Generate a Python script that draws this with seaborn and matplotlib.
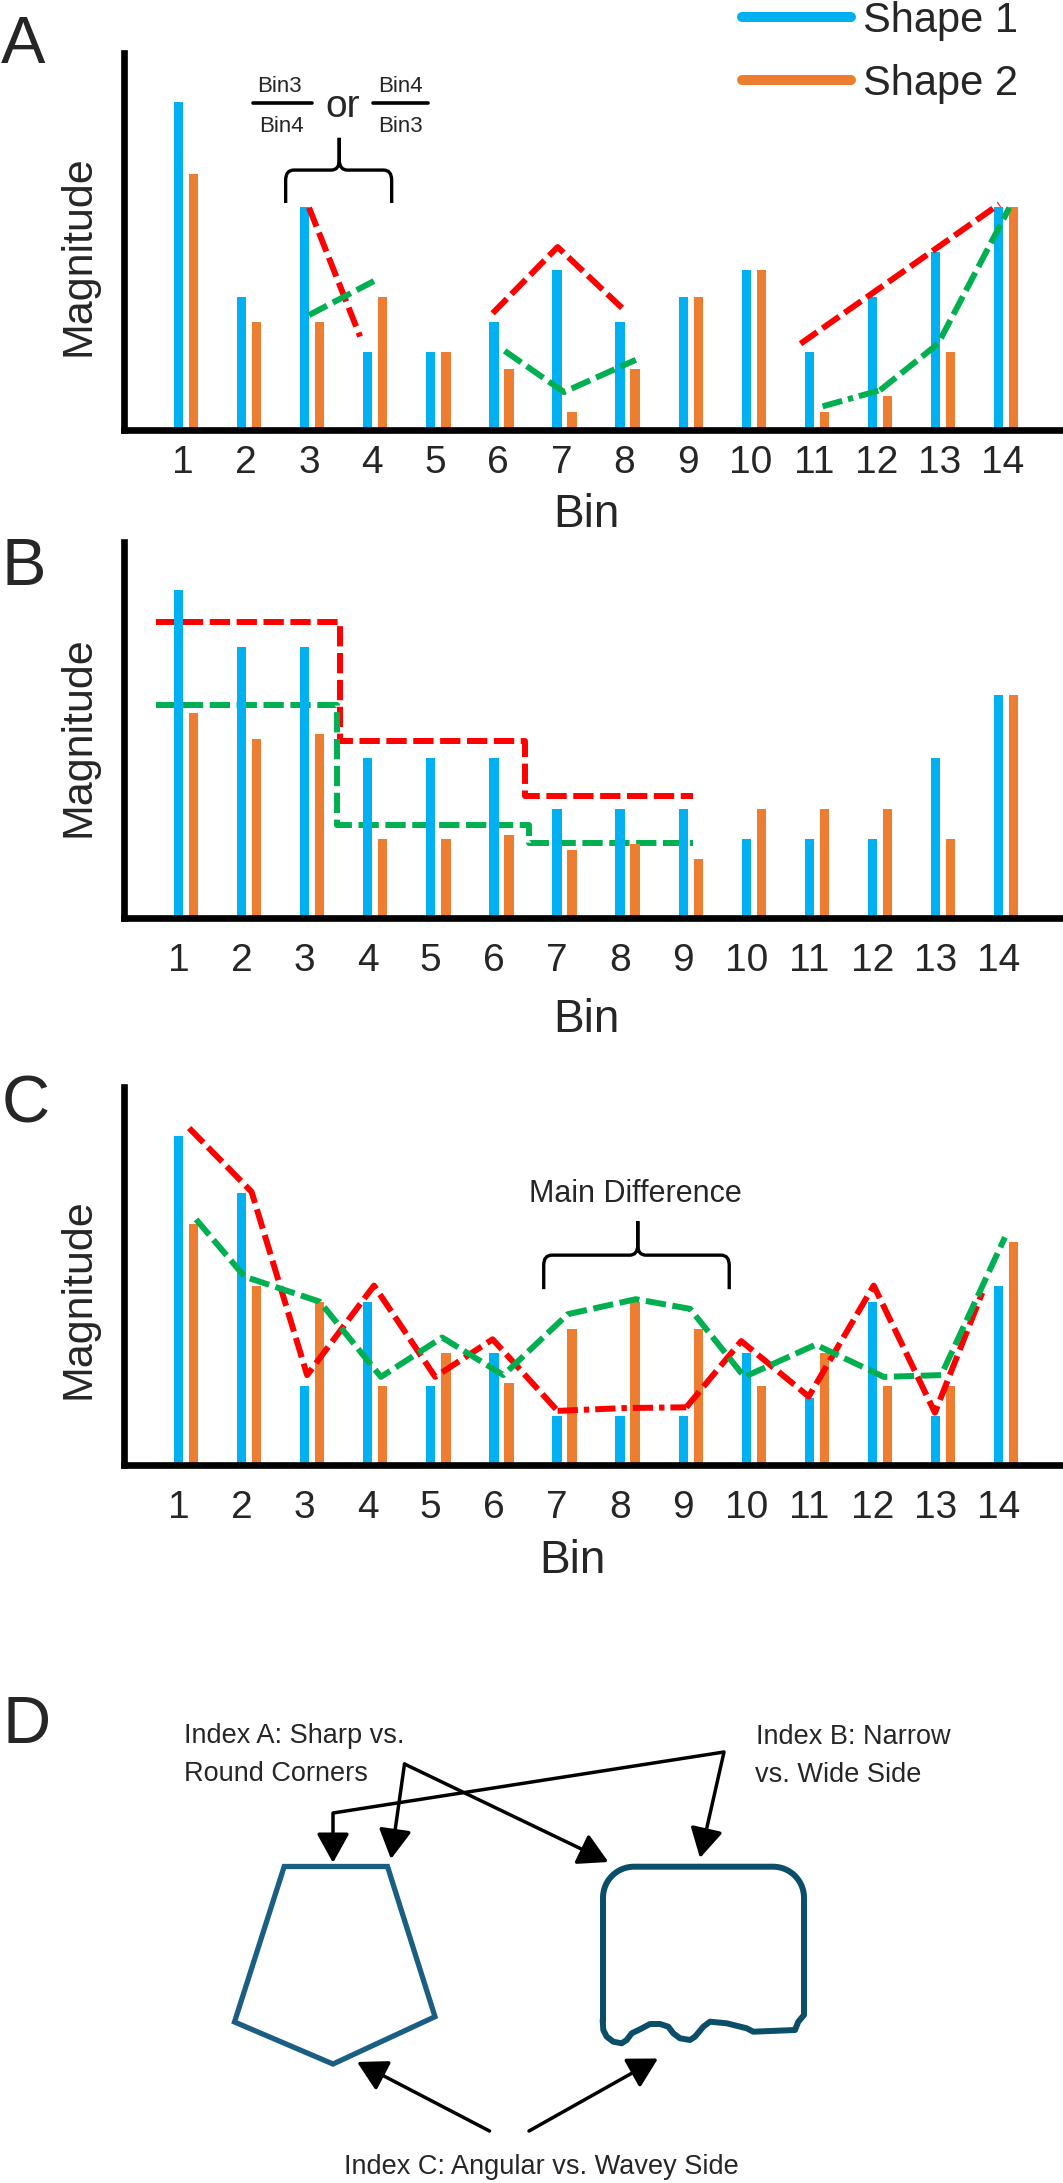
import numpy as np
import pandas as pd
import seaborn as sns
import matplotlib.pyplot as plt
from matplotlib.lines import Line2D
from matplotlib.path import Path
from matplotlib.patches import PathPatch, Polygon, FancyArrowPatch

W, H = 1063, 2183
BLUE = "#00B0F0"
ORANGE = "#ED7D31"
RED = "#FF0000"
GREEN = "#00B050"
DASH = (3.4, 1.1)
DASHDOT = (3.4, 1.0, 0.9, 1.0)

bins = list(range(1, 15))

# bar heights
a_shape1 = [9.16, 3.71, 6.23, 2.19, 2.19, 3.03, 4.46, 3.03, 3.71, 4.46, 2.19, 3.71, 4.96, 6.23]
a_shape2 = [7.16, 3.03, 3.03, 3.71, 2.19, 1.71, 0.51, 1.71, 3.71, 4.46, 0.51, 0.94, 2.19, 6.23]
b_shape1 = [9.16, 7.57, 7.57, 4.48, 4.48, 4.48, 3.05, 3.05, 3.05, 2.22, 2.22, 2.22, 4.48, 6.24]
b_shape2 = [5.73, 4.99, 5.15, 2.22, 2.22, 2.31, 1.89, 2.06, 1.64, 3.05, 3.05, 3.05, 2.22, 6.24]
c_shape1 = [9.19, 7.60, 2.22, 4.57, 2.22, 3.14, 1.37, 1.37, 1.37, 3.14, 1.89, 4.57, 1.37, 5.00]
c_shape2 = [6.75, 5.00, 4.57, 2.22, 3.14, 2.30, 3.82, 4.57, 3.82, 2.22, 3.14, 2.22, 2.22, 6.25]

# panel A: ratio lines
a_red = [([2.95, 3.76], [6.21, 2.61]),
         ([5.86, 6.89, 7.91], [3.26, 5.11, 3.41]),
         ([10.74, 13.89], [2.41, 6.31])]
a_green = [([2.95, 3.98], [3.21, 4.16]),
           ([6.05, 6.99, 8.13], [2.21, 1.06, 1.96]),
           ([11.09, 12.0, 12.92, 14.05], [0.66, 1.11, 2.41, 6.21])]

# panel B: group means as steps
b_red_x = [0.53, 3.44, 3.44, 6.38, 6.38, 9.04]
b_red_y = [8.28, 8.28, 4.94, 4.94, 3.41, 3.41]
b_green_x = [0.53, 3.40, 3.40, 6.43, 6.43, 9.04]
b_green_y = [5.94, 5.94, 2.59, 2.59, 2.09, 2.09]

# panel C: profiles
c_red_x = [1.05, 2.04, 2.92, 3.98, 4.95, 5.86, 6.89, 7.96, 8.93, 9.80, 10.87, 11.90, 12.87, 13.62]
c_red_y = [9.42, 7.64, 2.52, 5.02, 2.47, 3.52, 1.52, 1.60, 1.62, 3.47, 1.92, 5.02, 1.47, 4.82]
c_green_x = [1.16, 1.93, 3.12, 4.09, 5.06, 6.03, 7.05, 8.13, 8.99, 9.85, 10.98, 12.06, 12.97, 13.98]
c_green_y = [6.87, 5.27, 4.57, 2.47, 3.57, 2.52, 4.22, 4.64, 4.37, 2.47, 3.37, 2.47, 2.52, 6.37]

# panel D outlines (pixel coords of the sketch)
pent_x = [284.2, 387.5, 435, 333, 234.5]
pent_y = [1866.5, 1866.5, 2016.7, 2064, 2022]
wave_x = [804, 798.3, 795, 753.3, 746.7, 726.7, 710, 703.3, 695, 690, 680, 673.3, 668.3,
          660, 650, 640, 631.7, 626.7, 621.7, 613.3, 606.7, 603.3, 602.7]
wave_y = [2015, 2021.7, 2030, 2031.7, 2028.3, 2023.3, 2021.7, 2026.7, 2036.7, 2040, 2038.3,
          2033.3, 2026.7, 2024, 2024, 2029.3, 2033.3, 2040, 2043.3, 2041.7, 2036.7, 2030, 2020]


def px_axes(fig, left, top, right, bottom):
    return fig.add_axes([left / W, 1 - bottom / H, (right - left) / W, (bottom - top) / H])


def bar_panel(ax, s1, s2, ytop, tick_shift, pad, xlab, ylab_y):
    df = pd.DataFrame({"bin": bins * 2, "magnitude": s1 + s2,
                       "shape": ["Shape 1"] * 14 + ["Shape 2"] * 14})
    sns.barplot(data=df, x="bin", y="magnitude", hue="shape", palette=[BLUE, ORANGE],
                native_scale=True, width=0.476, gap=0.38, saturation=1,
                errorbar=None, legend=False, linewidth=0, ax=ax)
    ax.set_xlim(0.01, 14.9)
    ax.set_ylim(0, ytop)
    ax.set_xticks([b + tick_shift for b in bins], labels=[str(b) for b in bins])
    ax.set_yticks([])
    ax.tick_params(axis="x", length=0, labelsize=28, pad=pad)
    sns.despine(ax=ax)
    for side in ["left", "bottom"]:
        ax.spines[side].set_linewidth(4.8)
        ax.spines[side].set_color("black")
    ax.set_xlabel("Bin", fontsize=33, va="center")
    ax.xaxis.set_label_coords(*xlab)
    ax.set_ylabel("Magnitude", fontsize=31, va="center")
    ax.yaxis.set_label_coords(-0.048, ylab_y)


def brace(ax, x0, x1, xm, yb, yh, yt, rx, ry):
    verts = [(x0, yb), (x0, yh - ry), (x0, yh), (x0 + rx, yh), (xm - rx, yh),
             (xm, yh), (xm, yh + ry), (xm, yt),
             (xm, yt), (xm, yh + ry), (xm, yh), (xm + rx, yh), (x1 - rx, yh),
             (x1, yh), (x1, yh - ry), (x1, yb)]
    codes = [Path.MOVETO, Path.LINETO, Path.CURVE3, Path.CURVE3, Path.LINETO,
             Path.CURVE3, Path.CURVE3, Path.LINETO,
             Path.MOVETO, Path.LINETO, Path.CURVE3, Path.CURVE3, Path.LINETO,
             Path.CURVE3, Path.CURVE3, Path.LINETO]
    ax.add_patch(PathPatch(Path(verts, codes), fill=False, lw=2.4, color="black"))


def dashed(ax, x, y, color, dashes=DASH, z=3):
    ax.plot(x, y, color=color, lw=4.3, linestyle=(0, dashes), solid_capstyle="butt",
            dash_capstyle="butt", zorder=z)


sns.set_theme(style="white")
plt.rcParams["font.family"] = ["Liberation Sans", "DejaVu Sans"]

fig = plt.figure(figsize=(W / 100, H / 100), dpi=100)

# ---- A
ax_a = px_axes(fig, 123.5, 53, 1063, 430)
bar_panel(ax_a, a_shape1, a_shape2, 10.53, -0.05, 10.8, (0.493, -0.226), 0.4615)
for x, y in a_red:
    dashed(ax_a, x, y, RED)
for x, y in a_green[:2]:
    dashed(ax_a, x, y, GREEN)
gx, gy = a_green[2]
dashed(ax_a, gx[:2], gy[:2], GREEN, DASHDOT)
dashed(ax_a, gx[1:], gy[1:], GREEN)
brace(ax_a, 2.58, 4.26, 3.43, 6.34, 7.26, 8.16, 0.13, 0.28)
ax_a.plot([2.06, 2.99], [9.12, 9.12], color="black", lw=2.6)
ax_a.plot([3.96, 4.83], [9.12, 9.12], color="black", lw=2.6)
ax_a.text(2.48, 9.59, "Bin3", fontsize=16, ha="center", va="center")
ax_a.text(2.52, 8.47, "Bin4", fontsize=16, ha="center", va="center")
ax_a.text(4.40, 9.59, "Bin4", fontsize=16, ha="center", va="center")
ax_a.text(4.40, 8.47, "Bin3", fontsize=16, ha="center", va="center")
ax_a.text(3.48, 9.03, "or", fontsize=28, ha="center", va="center")

# ---- B (step lines sit behind the bars)
ax_b = px_axes(fig, 123.5, 541.7, 1063, 918)
bar_panel(ax_b, b_shape1, b_shape2, 10.51, -0.12, 18, (0.493, -0.271), 0.481)
dashed(ax_b, b_red_x, b_red_y, RED, z=0.5)
dashed(ax_b, b_green_x, b_green_y, GREEN, z=0.5)

# ---- C
ax_c = px_axes(fig, 123.5, 1086.9, 1063, 1465.3)
bar_panel(ax_c, c_shape1, c_shape2, 10.57, -0.12, 18, (0.478, -0.253), 0.44)
dashed(ax_c, c_red_x[:7], c_red_y[:7], RED)
dashed(ax_c, c_red_x[6:9], c_red_y[6:9], RED, DASHDOT)
dashed(ax_c, c_red_x[8:], c_red_y[8:], RED)
dashed(ax_c, c_green_x, c_green_y, GREEN)
brace(ax_c, 6.67, 9.61, 8.16, 4.92, 5.87, 6.82, 0.13, 0.28)
ax_c.text(8.12, 7.57, "Main Difference", fontsize=22, ha="center", va="center")

# legend
handles = [Line2D([], [], color=BLUE, lw=7.2), Line2D([], [], color=ORANGE, lw=7.2)]
fig.legend(handles, ["Shape 1", "Shape 2"], loc="upper left",
           bbox_to_anchor=(742 / W, 1 - 1 / H), frameon=False, fontsize=30,
           handlelength=2.62, handletextpad=0.28, labelspacing=0.55,
           borderpad=0, borderaxespad=0)

# ---- overlay in pixel coords: panel letters and sketch D
ax_o = fig.add_axes([0, 0, 1, 1])
ax_o.set_xlim(0, W)
ax_o.set_ylim(H, 0)
ax_o.axis("off")
ax_o.set_facecolor("none")

for letter, x, y in [("A", 23.5, 63.3), ("B", 24, 585), ("C", 26, 1122.7), ("D", 26.5, 1743.3)]:
    ax_o.text(x, y, letter, fontsize=48, ha="center", va="baseline")

ax_o.add_patch(Polygon(np.column_stack([pent_x, pent_y]), closed=True, fill=False,
                       ec="#1b5e84", lw=3.8, joinstyle="miter"))

r = 31
left, right, top = 603, 804, 1866.7
t = np.linspace(0, np.pi / 2, 20)
rx = [left] + list(left + r - r * np.cos(t)) + list(right - r + r * np.sin(t)) + [right] + wave_x
ry = [2020] + list(top + r - r * np.sin(t)) + list(top + r - r * np.cos(t)) + [2015] + wave_y
ax_o.add_patch(Polygon(np.column_stack([rx, ry]), closed=True, fill=False,
                       ec="#0b4e69", lw=4.3, joinstyle="round"))

arrow_kw = dict(arrowstyle="-|>,head_length=0.9,head_width=0.5", mutation_scale=20,
                color="black", lw=2.5, shrinkA=0, shrinkB=0)
arrows = [((404.5, 1764), (391, 1859)), ((404.5, 1764), (608.4, 1862)),
          ((333, 1813), (333, 1862.8)), ((724, 1752), (700, 1858)),
          ((489.5, 2131), (357, 2062)), ((529, 2131), (658, 2058.5))]
for start, end in arrows:
    ax_o.add_patch(FancyArrowPatch(start, end, **arrow_kw))
ax_o.plot([724, 333], [1752, 1813], color="black", lw=2.5, solid_capstyle="butt")

ax_o.text(184, 1743, "Index A: Sharp vs.", fontsize=19.5, va="baseline")
ax_o.text(184, 1781, "Round Corners", fontsize=19.5, va="baseline")
ax_o.text(756, 1744, "Index B: Narrow", fontsize=19.5, va="baseline")
ax_o.text(755, 1782, "vs. Wide Side", fontsize=19.5, va="baseline")
ax_o.text(541.5, 2174, "Index C: Angular vs. Wavey Side", fontsize=19.5, ha="center", va="baseline")

fig.savefig("out.png", dpi=100)
